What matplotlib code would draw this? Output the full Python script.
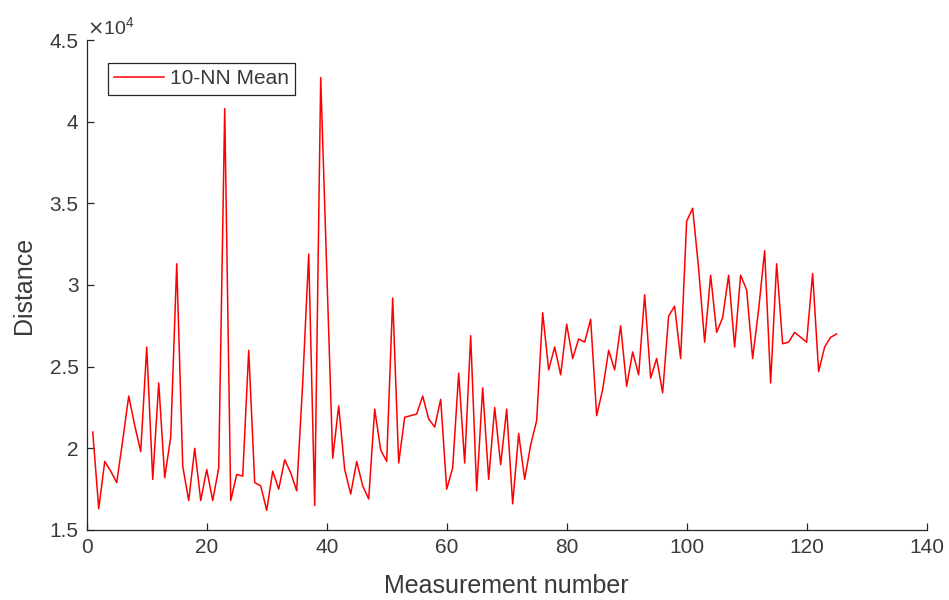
import numpy as np
import matplotlib
matplotlib.use('Agg')
import matplotlib.pyplot as plt
from matplotlib.ticker import FuncFormatter

plt.rcParams['font.family'] = ['Liberation Sans', 'DejaVu Sans']

measurement = np.arange(1, 126)
distance = np.array([
    2.10, 1.63, 1.92, 1.86, 1.79, 2.05, 2.32, 2.14, 1.98, 2.62,
    1.81, 2.40, 1.82, 2.07, 3.13, 1.89, 1.68, 2.00, 1.68, 1.87,
    1.68, 1.88, 4.08, 1.68, 1.84, 1.83, 2.60, 1.79, 1.77, 1.62,
    1.86, 1.75, 1.93, 1.85, 1.74, 2.40, 3.19, 1.65, 4.27, 3.10,
    1.94, 2.26, 1.87, 1.72, 1.92, 1.77, 1.69, 2.24, 1.99, 1.92,
    2.92, 1.91, 2.19, 2.20, 2.21, 2.32, 2.18, 2.13, 2.30, 1.75,
    1.88, 2.46, 1.91, 2.69, 1.74, 2.37, 1.81, 2.25, 1.90, 2.24,
    1.66, 2.09, 1.81, 2.02, 2.17, 2.83, 2.48, 2.62, 2.45, 2.76,
    2.55, 2.67, 2.65, 2.79, 2.20, 2.36, 2.60, 2.48, 2.75, 2.38,
    2.59, 2.45, 2.94, 2.43, 2.55, 2.34, 2.81, 2.87, 2.55, 3.39,
    3.47, 3.10, 2.65, 3.06, 2.71, 2.80, 3.06, 2.62, 3.06, 2.97,
    2.55, 2.85, 3.21, 2.40, 3.13, 2.64, 2.65, 2.71, 2.68, 2.65,
    3.07, 2.47, 2.62, 2.68, 2.70]) * 1e4

xticks = [0, 20, 40, 60, 80, 100, 120, 140]
yticks = [15000, 20000, 25000, 30000, 35000, 40000, 45000]

axcol = '#262626'
txtcol = '#3a3a3a'

fig = plt.figure(figsize=(9.49, 6.0), dpi=100)
ax = fig.add_axes([0.0914, 0.1167, 0.885, 0.8166])

ax.plot(measurement, distance, color='#ff0000', lw=1.1, label='10-NN Mean')

ax.set_xlim(0, 140)
ax.set_ylim(15000, 45000)
ax.set_xticks(xticks)
ax.set_yticks(yticks)
ax.yaxis.set_major_formatter(FuncFormatter(lambda v, p: '%g' % (v / 1e4)))

for s in ['top', 'right']:
    ax.spines[s].set_visible(False)
for s in ['left', 'bottom']:
    ax.spines[s].set_color(axcol)
    ax.spines[s].set_linewidth(0.9)
ax.tick_params(direction='in', length=5, width=0.9, color=axcol,
               labelcolor=txtcol, labelsize=15, pad=6)

ax.set_xlabel('Measurement number', fontsize=18, color=txtcol, labelpad=12)
ax.set_ylabel('Distance', fontsize=18, color=txtcol, labelpad=10)

ax.text(0.0, 1.004, r'$\times\mathregular{10^4}$', transform=ax.transAxes,
        fontsize=14, color=txtcol, ha='left', va='bottom')

leg = ax.legend(loc='upper left', bbox_to_anchor=(0.025, 0.953), fontsize=15,
                fancybox=False, framealpha=1, edgecolor=axcol,
                handlelength=2.4, borderpad=0.3, handletextpad=0.3,
                borderaxespad=0)
leg.get_frame().set_linewidth(0.9)
for t in leg.get_texts():
    t.set_color(txtcol)

fig.savefig('out.png', dpi=100)
